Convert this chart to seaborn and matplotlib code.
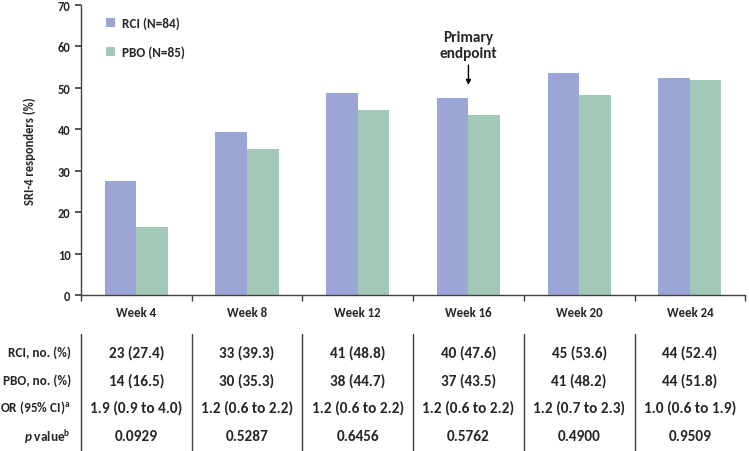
import matplotlib
matplotlib.use("Agg")
import matplotlib.pyplot as plt
import matplotlib.transforms as mtransforms
import seaborn as sns
import pandas as pd

weeks = ["Week 4", "Week 8", "Week 12", "Week 16", "Week 20", "Week 24"]
rci_pct = [27.4, 39.3, 48.8, 47.6, 53.6, 52.4]
pbo_pct = [16.5, 35.3, 44.7, 43.5, 48.2, 51.8]
groups = ["RCI (N=84)", "PBO (N=85)"]

row_labels = ["RCI, no. (%)", "PBO, no. (%)", "OR (95% CI)$^{\\mathregular{a}}$", "$\\mathit{p}$ value$^{\\mathregular{b}}$"]
rci_row = ["23 (27.4)", "33 (39.3)", "41 (48.8)", "40 (47.6)", "45 (53.6)", "44 (52.4)"]
pbo_row = ["14 (16.5)", "30 (35.3)", "38 (44.7)", "37 (43.5)", "41 (48.2)", "44 (51.8)"]
or_row = ["1.9 (0.9 to 4.0)", "1.2 (0.6 to 2.2)", "1.2 (0.6 to 2.2)", "1.2 (0.6 to 2.2)",
          "1.2 (0.7 to 2.3)", "1.0 (0.6 to 1.9)"]
p_row = ["0.0929", "0.5287", "0.6456", "0.5762", "0.4900", "0.9509"]

colors = ["#9ba5d6", "#a2c8b8"]

df = pd.DataFrame({
    "Week": weeks * 2,
    "Pct": rci_pct + pbo_pct,
    "Group": [groups[0]] * len(weeks) + [groups[1]] * len(weeks),
})

sns.set_theme(style="white")
plt.rcParams["font.family"] = ["Carlito", "DejaVu Sans"]
plt.rcParams["mathtext.fontset"] = "custom"
plt.rcParams["mathtext.rm"] = "Carlito:bold"
plt.rcParams["mathtext.it"] = "Carlito:italic:bold"

fig = plt.figure(figsize=(7.49, 4.52), dpi=100)
ax = fig.add_axes([0.108, 0.345, 0.887, 0.642])

sns.barplot(data=df, x="Week", y="Pct", hue="Group", palette=colors, width=0.57,
            saturation=1, linewidth=0, ax=ax)

ax.set_ylim(0, 70)
ax.set_xlim(-0.5, len(weeks) - 0.5)
ax.set_yticks(range(0, 71, 10))
ax.set_ylabel("SRI-4 responders (%)", fontsize=9, fontweight="bold", labelpad=16)
ax.set_xlabel("")
for s in ["top", "right"]:
    ax.spines[s].set_visible(False)
for s in ["left", "bottom"]:
    ax.spines[s].set_color("#404040")
    ax.spines[s].set_linewidth(1)

ax.set_xticks(range(len(weeks)))
ax.set_xticklabels(weeks, fontsize=9.3, fontweight="bold")
ax.set_xticks([i - 0.5 for i in range(len(weeks) + 1)], minor=True)
ax.tick_params(axis="x", which="major", length=0, pad=8)
ax.tick_params(axis="x", which="minor", length=4, color="#404040", direction="out", bottom=True)
ax.tick_params(axis="y", length=4, color="#404040", direction="out", left=True, labelsize=9)
for lbl in ax.get_yticklabels():
    lbl.set_fontweight("bold")

ax.legend(loc="upper left", bbox_to_anchor=(0.02, 1.0), frameon=False,
          handlelength=0.7, handleheight=0.7, handletextpad=0.5, labelspacing=1.2,
          prop={"weight": "bold", "size": 9.5})

# Primary endpoint annotation
ax.annotate("Primary\nendpoint", xy=(3, 50.7), xytext=(3, 56.6), ha="center", va="bottom",
            fontsize=11, fontweight="bold", linespacing=1.25,
            arrowprops=dict(arrowstyle="-|>", color="black", lw=1, mutation_scale=7,
                            shrinkA=1, shrinkB=0))

# table below the chart
trans = mtransforms.blended_transform_factory(ax.transData, fig.transFigure)
row_y = [1 - 353 / 452, 1 - 381 / 452, 1 - 408 / 452, 1 - 437 / 452]
rows = [rci_row, pbo_row, or_row, p_row]
for y, label, vals in zip(row_y, row_labels, rows):
    fig.text(71 / 749, y, label, ha="right", va="center", fontsize=9.5, fontweight="bold")
    for i, v in enumerate(vals):
        ax.text(i, y, v, transform=trans, ha="center", va="center", fontsize=11,
                fontweight="bold", clip_on=False)

for i in range(len(weeks)):
    ax.plot([i - 0.5, i - 0.5], [0, 1 - 335 / 452], transform=trans, color="#404040",
            lw=1, clip_on=False)

fig.savefig("out.png", dpi=100)
